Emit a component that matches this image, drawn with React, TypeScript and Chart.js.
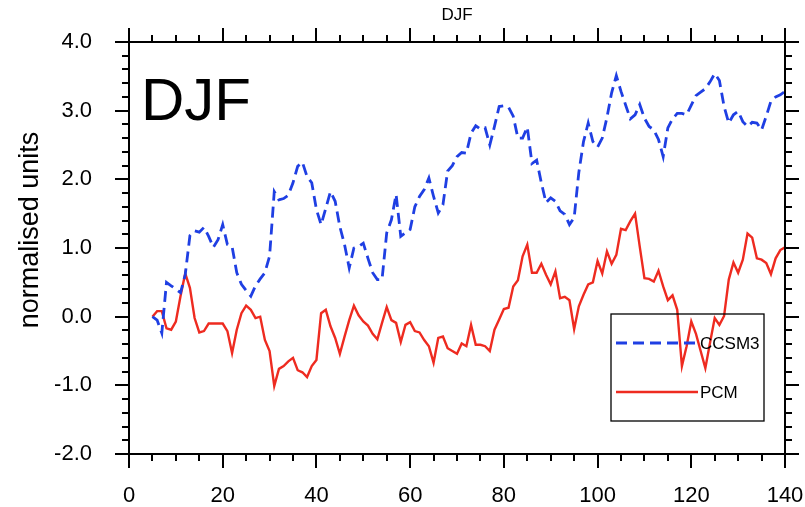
import { useEffect, useRef } from 'react';
import { Chart, registerables } from 'chart.js';

Chart.register(...registerables);

// Model years along the x axis
const YEARS = [
  5, 6, 7, 8, 9, 10, 11, 12, 13, 14, 15, 16, 17, 18, 19, 20, 21, 22, 23, 24,
  25, 26, 27, 28, 29, 30, 31, 32, 33, 34, 35, 36, 37, 38, 39, 40, 41, 42, 43, 44,
  45, 46, 47, 48, 49, 50, 51, 52, 53, 54, 55, 56, 57, 58, 59, 60, 61, 62, 63, 64,
  65, 66, 67, 68, 69, 70, 71, 72, 73, 74, 75, 76, 77, 78, 79, 80, 81, 82, 83, 84,
  85, 86, 87, 88, 89, 90, 91, 92, 93, 94, 95, 96, 97, 98, 99, 100, 101, 102, 103, 104,
  105, 106, 107, 108, 109, 110, 111, 112, 113, 114, 115, 116, 117, 118, 119, 120, 121, 122, 123, 124,
  125, 126, 127, 128, 129, 130, 131, 132, 133, 134, 135, 136, 137, 138, 139, 140,
];

// CCSM3 normalised DJF index
const CCSM3 = [
  0.0, -0.05, -0.24, 0.5, 0.45, 0.4, 0.35, 0.61, 1.18, 1.25, 1.23, 1.3, 1.17, 1.01, 1.12, 1.34, 1.05, 1.02, 0.64, 0.47,
  0.38, 0.3, 0.45, 0.55, 0.64, 0.88, 1.82, 1.7, 1.72, 1.77, 1.95, 2.19, 2.25, 2.04, 1.95, 1.56, 1.34, 1.58, 1.82, 1.68,
  1.31, 1.05, 0.71, 1.0, 1.02, 1.07, 0.85, 0.64, 0.54, 0.54, 1.22, 1.41, 1.78, 1.17, 1.22, 1.27, 1.6, 1.75, 1.85, 2.02,
  1.75, 1.51, 1.63, 2.12, 2.2, 2.33, 2.39, 2.38, 2.67, 2.78, 2.73, 2.75, 2.5, 2.77, 3.06, 3.07, 3.05, 2.92, 2.6, 2.6,
  2.76, 2.23, 2.28, 1.95, 1.66, 1.73, 1.68, 1.54, 1.49, 1.34, 1.44, 2.1, 2.55, 2.82, 2.55, 2.47, 2.6, 2.9, 3.26, 3.51,
  3.28, 3.08, 2.88, 2.94, 3.09, 2.89, 2.77, 2.72, 2.58, 2.33, 2.75, 2.88, 2.96, 2.96, 2.94, 3.08, 3.22, 3.27, 3.32, 3.42,
  3.54, 3.44, 3.06, 2.82, 2.94, 2.99, 2.84, 2.77, 2.83, 2.82, 2.72, 2.92, 3.14, 3.2, 3.23, 3.28,
];

// PCM normalised DJF index
const PCM = [
  0.0, 0.08, 0.08, -0.17, -0.19, -0.07, 0.3, 0.63, 0.42, -0.02, -0.23, -0.21, -0.1, -0.1, -0.1, -0.1, -0.21, -0.53, -0.19, 0.05,
  0.16, 0.1, -0.02, 0.0, -0.34, -0.5, -1.01, -0.76, -0.72, -0.65, -0.6, -0.78, -0.81, -0.88, -0.72, -0.63, 0.05, 0.1, -0.14, -0.31,
  -0.54, -0.29, -0.05, 0.16, 0.02, -0.07, -0.13, -0.25, -0.33, -0.09, 0.14, -0.05, -0.09, -0.37, -0.12, -0.08, -0.21, -0.23, -0.34, -0.43,
  -0.67, -0.31, -0.29, -0.46, -0.5, -0.54, -0.39, -0.43, -0.12, -0.41, -0.41, -0.43, -0.5, -0.19, -0.04, 0.11, 0.13, 0.44, 0.53, 0.88,
  1.05, 0.64, 0.64, 0.77, 0.61, 0.47, 0.66, 0.27, 0.29, 0.24, -0.18, 0.15, 0.32, 0.47, 0.5, 0.81, 0.63, 0.95, 0.77, 0.9,
  1.28, 1.26, 1.39, 1.5, 1.02, 0.56, 0.55, 0.51, 0.67, 0.44, 0.24, 0.31, 0.1, -0.72, -0.43, -0.07, -0.25, -0.5, -0.75, -0.38,
  -0.02, -0.12, 0.01, 0.54, 0.79, 0.64, 0.83, 1.21, 1.15, 0.85, 0.83, 0.78, 0.62, 0.85, 0.97, 1.01,
];

const SERIES_NAMES = ['CCSM3', 'PCM'];
const X_MIN = 0;
const X_MAX = 140;
const Y_MIN = -2;
const Y_MAX = 4;

const FONT = '"Liberation Sans", Arial, Helvetica, sans-serif';
const BLUE = '#1f3fe3';
const RED = '#ee2b20';
const BLUE_DASH = [11, 6];
const BLUE_WIDTH = 2.8;
const RED_WIDTH = 2.4;

// Frame with outward major/minor ticks on all four sides, panel label,
// rotated y-axis title and the boxed legend.
const nclDecorations = {
  id: 'nclDecorations',
  afterDatasetsDraw(chart: any) {
    const { ctx, chartArea: a } = chart;
    ctx.save();

    // panel label in the upper-left corner
    ctx.fillStyle = '#000';
    ctx.font = `60px ${FONT}`;
    ctx.textAlign = 'left';
    ctx.textBaseline = 'alphabetic';
    ctx.fillText('DJF', a.left + 12, a.top + 78);

    // legend box
    const lx0 = a.right - 174;
    const lx1 = a.right - 21;
    const ly0 = a.bottom - 140;
    const ly1 = a.bottom - 33;
    ctx.strokeStyle = '#000';
    ctx.lineWidth = 1.3;
    ctx.strokeRect(lx0, ly0, lx1 - lx0, ly1 - ly0);

    const rows = [
      { name: SERIES_NAMES[0], color: BLUE, dash: BLUE_DASH, width: BLUE_WIDTH, y: ly0 + 29 },
      { name: SERIES_NAMES[1], color: RED, dash: [] as number[], width: RED_WIDTH, y: ly0 + 78 },
    ];
    ctx.font = `17px ${FONT}`;
    ctx.textBaseline = 'middle';
    for (const r of rows) {
      ctx.strokeStyle = r.color;
      ctx.lineWidth = r.width;
      ctx.setLineDash(r.dash);
      ctx.beginPath();
      ctx.moveTo(lx0 + 5, r.y);
      ctx.lineTo(lx0 + 87, r.y);
      ctx.stroke();
      ctx.setLineDash([]);
      ctx.fillStyle = '#000';
      ctx.fillText(r.name, lx0 + 89, r.y + 1);
    }
    ctx.restore();
  },
  afterDraw(chart: any) {
    const { ctx, chartArea: a, scales } = chart;
    const xs = scales.x;
    const ys = scales.y;
    ctx.save();
    ctx.strokeStyle = '#000';
    ctx.lineWidth = 2;
    ctx.lineCap = 'butt';

    ctx.beginPath();
    for (let v = X_MIN; v <= X_MAX; v += 5) {
      const px = Math.round(xs.getPixelForValue(v));
      const len = v % 20 === 0 ? 14 : 7;
      ctx.moveTo(px, a.bottom);
      ctx.lineTo(px, a.bottom + len);
      ctx.moveTo(px, a.top);
      ctx.lineTo(px, a.top - len);
    }
    for (let k = Y_MIN * 5; k <= Y_MAX * 5; k++) {
      const py = Math.round(ys.getPixelForValue(k / 5));
      const len = k % 5 === 0 ? 14 : 7;
      ctx.moveTo(a.left, py);
      ctx.lineTo(a.left - len, py);
      ctx.moveTo(a.right, py);
      ctx.lineTo(a.right + len, py);
    }
    ctx.stroke();

    ctx.strokeRect(a.left, a.top, a.right - a.left, a.bottom - a.top);

    // y-axis title
    ctx.fillStyle = '#000';
    ctx.font = `27px ${FONT}`;
    ctx.textAlign = 'center';
    ctx.textBaseline = 'middle';
    ctx.translate(31, (a.top + a.bottom) / 2 - 18);
    ctx.rotate(-Math.PI / 2);
    ctx.fillText('normalised units', 0, 0);
    ctx.restore();
  },
};

export default function App() {
  const canvasRef = useRef<HTMLCanvasElement | null>(null);

  useEffect(() => {
    const canvas = canvasRef.current;
    if (!canvas) return;

    const chart = new Chart(canvas, {
      type: 'line',
      data: {
        datasets: [
          {
            label: SERIES_NAMES[0],
            data: YEARS.map((yr, i) => ({ x: yr, y: CCSM3[i] })),
            borderColor: BLUE,
            borderWidth: BLUE_WIDTH,
            borderDash: BLUE_DASH,
            pointRadius: 0,
            fill: false,
            tension: 0,
          },
          {
            label: SERIES_NAMES[1],
            data: YEARS.map((yr, i) => ({ x: yr, y: PCM[i] })),
            borderColor: RED,
            borderWidth: RED_WIDTH,
            pointRadius: 0,
            fill: false,
            tension: 0,
          },
        ],
      },
      options: {
        responsive: false,
        animation: false,
        devicePixelRatio: 1,
        layout: { padding: { left: 0, right: 20, top: 0, bottom: 0 } },
        plugins: {
          legend: { display: false },
          tooltip: { enabled: false },
          title: {
            display: true,
            text: 'DJF',
            fullSize: false,
            color: '#000',
            font: { family: FONT, size: 17, weight: 'normal', lineHeight: 1.2 },
            padding: { top: 5, bottom: 16.6 },
          },
        },
        scales: {
          x: {
            type: 'linear',
            min: X_MIN,
            max: X_MAX,
            afterFit: (s: any) => {
              s.height = 53;
              s.paddingLeft = 0;
              s.paddingRight = 0;
            },
            ticks: {
              stepSize: 20,
              color: '#000',
              font: { family: FONT, size: 22 },
              padding: 29,
              maxRotation: 0,
              autoSkip: false,
            },
            grid: { display: false, drawTicks: false },
            border: { display: false },
          },
          y: {
            type: 'linear',
            min: Y_MIN,
            max: Y_MAX,
            afterFit: (s: any) => {
              s.width = 129;
              s.paddingTop = 0;
              s.paddingBottom = 0;
            },
            ticks: {
              stepSize: 1,
              color: '#000',
              font: { family: FONT, size: 22 },
              padding: 37,
              callback: (v: any) => Number(v).toFixed(1),
            },
            grid: { display: false, drawTicks: false },
            border: { display: false },
          },
        },
      },
      plugins: [nclDecorations],
    } as any);

    return () => chart.destroy();
  }, []);

  return (
    <div style={{ position: 'absolute', left: 0, top: 0, width: 805, height: 507, background: '#fff' }}>
      <canvas ref={canvasRef} width={805} height={507} style={{ display: 'block' }} />
    </div>
  );
}
